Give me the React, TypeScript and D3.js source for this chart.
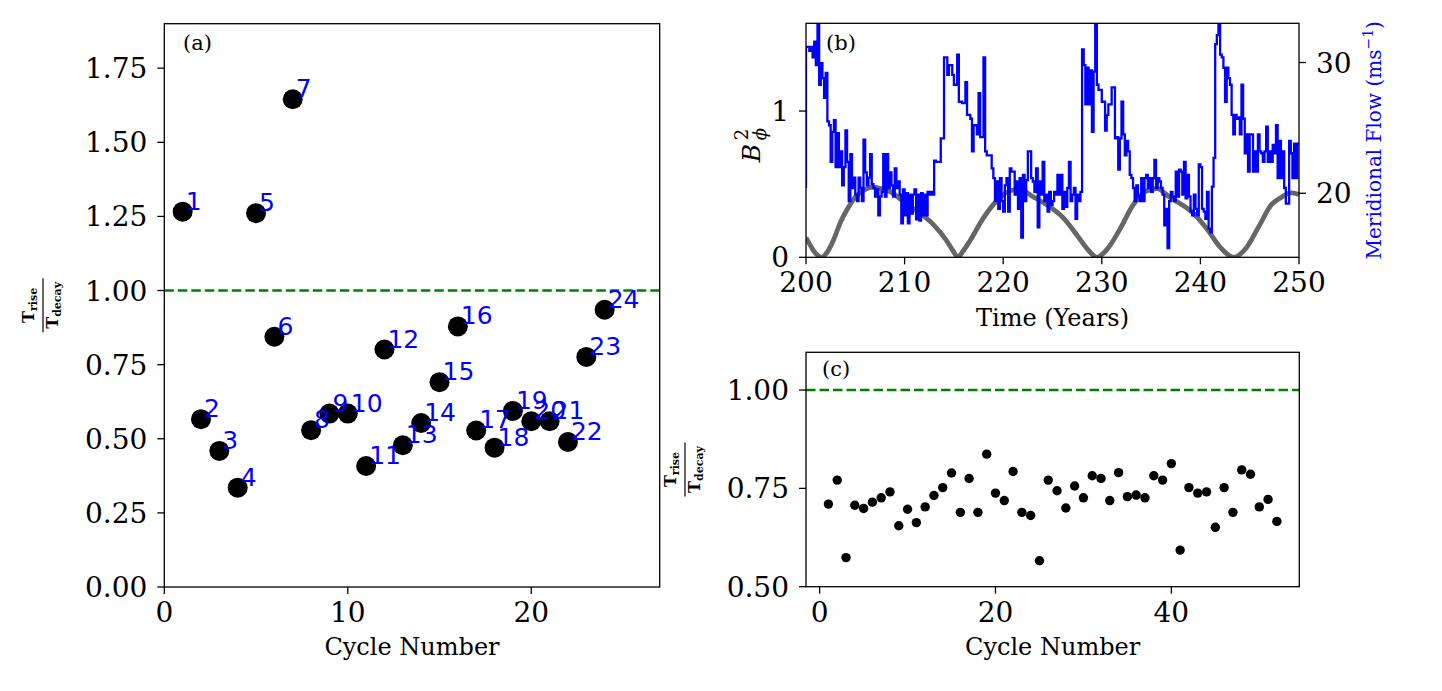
import { curveMonotoneX, curveStepBefore, line, scaleLinear } from 'd3'

const cyclesA = [1, 2, 3, 4, 5, 6, 7, 8, 9, 10, 11, 12, 13, 14, 15, 16, 17, 18, 19, 20, 21, 22, 23, 24]
const ratiosA = [
  1.266, 0.566, 0.459, 0.335, 1.261, 0.844, 1.645, 0.529, 0.585, 0.585, 0.408, 0.801,
  0.478, 0.553, 0.691, 0.879, 0.528, 0.47, 0.594, 0.559, 0.559, 0.489, 0.776, 0.935,
]

const cyclesC = [
  1, 2, 3, 4, 5, 6, 7, 8, 9, 10, 11, 12, 13, 14, 15, 16, 17, 18, 19, 20, 21, 22, 23, 24, 25, 26,
  27, 28, 29, 30, 31, 32, 33, 34, 35, 36, 37, 38, 39, 40, 41, 42, 43, 44, 45, 46, 47, 48, 49, 50, 51, 52,
]
const ratiosC = [
  0.71, 0.771, 0.574, 0.707, 0.699, 0.715, 0.726, 0.741, 0.655, 0.697, 0.663, 0.703, 0.732,
  0.752, 0.789, 0.689, 0.775, 0.689, 0.837, 0.738, 0.719, 0.793, 0.689, 0.681, 0.566, 0.771,
  0.744, 0.7, 0.756, 0.726, 0.782, 0.775, 0.719, 0.79, 0.729, 0.733, 0.726, 0.782, 0.771,
  0.813, 0.593, 0.752, 0.738, 0.741, 0.651, 0.752, 0.689, 0.797, 0.786, 0.703, 0.722, 0.666,
]

const fieldYears = [
  200, 200.5, 201, 201.6, 202.2, 202.8, 203.5, 204.2, 205.1, 206, 206.8, 207.6, 208.5, 210.2,
  211.6, 212.9, 214.3, 214.9, 215.4, 215.9, 216.6, 218, 219.4, 220.7, 221.7, 223, 224.4, 226.1,
  227.5, 228.5, 229.5, 230.6, 231.9, 233.1, 234.3, 235.6, 236.9, 238, 239.3, 240.6, 242, 243.4,
  244.6, 246, 247.2, 248.2, 249.2, 250,
]
const fieldEnergy = [
  0.135, 0.075, 0.025, 0, 0.04, 0.12, 0.24, 0.33, 0.42, 0.465, 0.48, 0.47, 0.45, 0.365,
  0.3, 0.225, 0.11, 0.045, 0, 0.04, 0.11, 0.27, 0.39, 0.455, 0.465, 0.415, 0.36, 0.27,
  0.15, 0.06, 0, 0.06, 0.2, 0.35, 0.445, 0.47, 0.41, 0.365, 0.3, 0.2, 0.07, 0,
  0.06, 0.22, 0.36, 0.41, 0.44, 0.43,
]

const flowStartYear = 200
const flowStepsPerYear = 6
const meridionalFlow = [
  20.4,
  31.2, 31.2, 30.9, 31.2, 30.4, 31.6,
  29.8, 33.0, 28.3, 29.95, 28.8, 27.3,
  29.2, 25.5, 25.2, 22.4, 24.7, 25.6,
  22.0, 24.6, 22.0, 23.2, 20.6, 22.0,
  24.8, 22.4, 19.4, 23.0, 20.4, 21.2,
  19.9, 19.4, 21.2, 20.4, 19.4, 24.1,
  21.6, 20.6, 21.2, 23.0, 20.7, 20.4,
  19.75, 20.3, 18.3, 19.75, 20.1, 23.0,
  19.75, 23.0, 20.4, 21.6, 20.6, 19.75,
  21.9, 20.4, 20.9, 19.9, 17.7, 20.3,
  18.3, 20.0, 17.7, 19.9, 18.45, 19.9,
  20.3, 18.0, 19.9, 17.9, 20.0, 18.3,
  19.9, 18.3, 20.1, 19.9, 20.1, 19.9,
  22.5, 22.4, 22.4, 22.4, 24.2, 24.2,
  30.4, 30.4, 29.05, 29.8, 29.8, 29.05,
  28.3, 28.3, 30.6, 27.0, 27.0, 26.9,
  26.9, 28.5, 26.0, 26.0, 25.7, 23.2,
  25.2, 25.2, 24.5, 27.65, 24.3, 24.3,
  30.4, 23.2, 22.9, 22.9, 22.9, 21.9,
  21.15, 19.4, 20.9, 18.8, 21.15, 19.4,
  18.6, 20.6, 21.15, 18.6, 21.9, 21.65,
  21.65, 19.9, 20.9, 18.8, 21.15, 16.6,
  21.4, 19.4, 21.0, 23.2, 23.2, 21.15,
  20.9, 20.1, 21.9, 17.4, 20.9, 19.9,
  22.4, 19.4, 19.9, 18.6, 20.1, 19.1,
  19.4, 20.1, 19.9, 21.4, 19.9, 21.4,
  18.8, 20.1, 18.96, 20.4, 22.4, 19.4,
  19.9, 20.4, 18.05, 19.9, 19.4, 20.1,
  31.0, 29.8, 26.8, 29.6, 26.8, 29.4,
  24.7, 29.3, 33.0, 28.3, 27.9, 27.9,
  27.0, 27.0, 24.8, 26.0, 26.8, 26.8,
  28.1, 28.1, 24.2, 24.3, 21.8, 24.2,
  27.0, 24.5, 22.9, 24.0, 23.2, 21.4,
  21.15, 20.4, 19.4, 20.6, 19.75, 19.4,
  21.15, 19.4, 21.15, 21.4, 20.4, 21.15,
  20.1, 21.15, 22.55, 20.4, 21.15, 20.9,
  20.4, 19.9, 17.55, 18.8, 15.8, 19.4,
  20.1, 19.75, 19.4, 21.65, 19.75, 21.8,
  21.65, 19.9, 22.4, 19.6, 21.4, 19.75,
  18.6, 18.3, 19.9, 18.8, 18.3, 22.2,
  22.0, 18.8, 18.6, 18.05, 20.1, 17.3,
  17.0, 20.5, 22.7, 31.4, 32.1, 33.0,
  30.6, 30.4, 29.6, 27.0, 29.6, 28.8,
  28.3, 26.0, 24.5, 26.0, 25.7, 25.8,
  24.5, 28.3, 25.7, 23.06, 24.5, 21.65,
  24.5, 24.5, 21.65, 23.2, 21.65, 24.5,
  23.2, 23.06, 22.4, 23.2, 25.1, 22.4,
  23.2, 22.4, 23.7, 23.06, 25.2, 21.15,
  24.0, 21.15, 23.2, 20.4, 19.2, 19.2,
  24.0, 23.06, 21.15, 23.8, 21.15, 23.8,
]

const xTicksA = [0, 10, 20]
const yTicksA = [0, 0.25, 0.5, 0.75, 1, 1.25, 1.5, 1.75]
const xTicksB = [200, 210, 220, 230, 240, 250]
const yTicksB = [0, 1]
const flowTicks = [20, 30]
const xTicksC = [0, 20, 40]
const yTicksC = [0.5, 0.75, 1]

const serif = '"DejaVu Serif", serif'
const sans = '"DejaVu Sans", sans-serif'
const tickSize = 7
const tickFont = 28
const labelFont = 24

const boxA = { left: 164.3, right: 659.7, top: 23.7, bottom: 587 }
const boxB = { left: 806, right: 1299, top: 23.3, bottom: 257.3 }
const boxC = { left: 806, right: 1299.3, top: 352.3, bottom: 586.7 }

type Box = typeof boxA
type Scale = (v: number) => number

function Frame({ box }: { box: Box }) {
  return (
    <rect
      x={box.left}
      y={box.top}
      width={box.right - box.left}
      height={box.bottom - box.top}
      fill="none"
      stroke="#000"
      strokeWidth={1.3}
    />
  )
}

function BottomTicks({ box, scale, ticks, format }: { box: Box; scale: Scale; ticks: number[]; format: (v: number) => string }) {
  return (
    <g>
      {ticks.map((tick) => (
        <g key={`bx-${tick}`}>
          <line x1={scale(tick)} x2={scale(tick)} y1={box.bottom} y2={box.bottom + tickSize} stroke="#000" strokeWidth={1.3} />
          <text x={scale(tick)} y={box.bottom + 35} textAnchor="middle" fontFamily={serif} fontSize={tickFont}>
            {format(tick)}
          </text>
        </g>
      ))}
    </g>
  )
}

function LeftTicks({ box, scale, ticks, format }: { box: Box; scale: Scale; ticks: number[]; format: (v: number) => string }) {
  return (
    <g>
      {ticks.map((tick) => (
        <g key={`ly-${tick}`}>
          <line x1={box.left - tickSize} x2={box.left} y1={scale(tick)} y2={scale(tick)} stroke="#000" strokeWidth={1.3} />
          <text x={box.left - 17} y={scale(tick)} dy="0.36em" textAnchor="end" fontFamily={serif} fontSize={tickFont}>
            {format(tick)}
          </text>
        </g>
      ))}
    </g>
  )
}

function RatioLabel({ x, y }: { x: number; y: number }) {
  return (
    <g transform={`translate(${x}, ${y}) rotate(-90)`} fontFamily={serif} fontWeight="bold">
      <text x={0} y={-9} textAnchor="middle" fontSize={16}>
        T<tspan fontSize={11} dy={3}>rise</tspan>
      </text>
      <line x1={-27} x2={27} y1={0} y2={0} stroke="#000" strokeWidth={1.2} />
      <text x={0} y={15} textAnchor="middle" fontSize={16}>
        T<tspan fontSize={11} dy={3}>decay</tspan>
      </text>
    </g>
  )
}

function App() {
  const xA = scaleLinear().domain([0, 27]).range([boxA.left, boxA.right])
  const yA = scaleLinear().domain([0, 1.9]).range([boxA.bottom, boxA.top])
  const xB = scaleLinear().domain([200, 250]).range([boxB.left, boxB.right])
  const yB = scaleLinear().domain([0, 1.6]).range([boxB.bottom, boxB.top])
  const yFlow = scaleLinear().domain([15.1, 33.0]).range([boxB.bottom, boxB.top])
  const xC = scaleLinear().domain([-1.55, 54.55]).range([boxC.left, boxC.right])
  const yC = scaleLinear().domain([0.5, 1.096]).range([boxC.bottom, boxC.top])

  const fieldPath = line<number>()
    .x((_, i) => xB(fieldYears[i]))
    .y((d) => yB(d))
    .curve(curveMonotoneX)(fieldEnergy)

  const flowPath = line<number>()
    .x((_, i) => xB(flowStartYear + i / flowStepsPerYear))
    .y((d) => yFlow(d))
    .curve(curveStepBefore)(meridionalFlow)

  return (
    <div style={{ position: 'absolute', left: 0, top: 0 }}>
      <svg width={1442} height={691} viewBox="0 0 1442 691" style={{ display: 'block', background: '#fff' }}>
        <defs>
          <clipPath id="clip-b">
            <rect x={boxB.left} y={boxB.top} width={boxB.right - boxB.left} height={boxB.bottom - boxB.top} />
          </clipPath>
        </defs>

        {/* panel (a) */}
        <line
          x1={boxA.left}
          x2={boxA.right}
          y1={yA(1)}
          y2={yA(1)}
          stroke="#008000"
          strokeWidth={2.4}
          strokeDasharray="9.5,4"
        />
        {cyclesA.map((cycle, i) => (
          <circle key={`a-${cycle}`} cx={xA(cycle)} cy={yA(ratiosA[i])} r={10} fill="#000" />
        ))}
        {cyclesA.map((cycle, i) => (
          <text
            key={`a-label-${cycle}`}
            x={xA(cycle) + 3}
            y={yA(ratiosA[i]) - 2}
            fontFamily={sans}
            fontSize={25}
            fill="#0000ff"
          >
            {cycle}
          </text>
        ))}
        <Frame box={boxA} />
        <BottomTicks box={boxA} scale={xA} ticks={xTicksA} format={(v) => `${v}`} />
        <LeftTicks box={boxA} scale={yA} ticks={yTicksA} format={(v) => v.toFixed(2)} />
        <text x={183} y={50} fontFamily={serif} fontSize={21}>(a)</text>
        <text x={(boxA.left + boxA.right) / 2} y={655} textAnchor="middle" fontFamily={serif} fontSize={labelFont}>
          Cycle Number
        </text>
        <RatioLabel x={43} y={(boxA.top + boxA.bottom) / 2} />

        {/* panel (b) */}
        <path d={fieldPath ?? ''} fill="none" stroke="#666" strokeWidth={4.8} clipPath="url(#clip-b)" />
        <path d={flowPath ?? ''} fill="none" stroke="#0000ff" strokeWidth={2.3} clipPath="url(#clip-b)" />
        <Frame box={boxB} />
        <BottomTicks box={boxB} scale={xB} ticks={xTicksB} format={(v) => `${v}`} />
        <LeftTicks box={boxB} scale={yB} ticks={yTicksB} format={(v) => `${v}`} />
        {flowTicks.map((tick) => (
          <g key={`r-${tick}`}>
            <line x1={boxB.right} x2={boxB.right + tickSize} y1={yFlow(tick)} y2={yFlow(tick)} stroke="#000" strokeWidth={1.3} />
            <text x={boxB.right + 17} y={yFlow(tick)} dy="0.36em" fontFamily={serif} fontSize={tickFont}>
              {tick}
            </text>
          </g>
        ))}
        <text x={826} y={50} fontFamily={serif} fontSize={21}>(b)</text>
        <text x={(boxB.left + boxB.right) / 2} y={326} textAnchor="middle" fontFamily={serif} fontSize={labelFont}>
          Time (Years)
        </text>
        <g transform={`translate(760, ${(boxB.top + boxB.bottom) / 2}) rotate(-90)`} fontFamily={serif}>
          <text x={-22} y={0} fontSize={25} fontStyle="italic">B</text>
          <text x={0} y={-12} fontSize={18}>2</text>
          <text x={0} y={6} fontSize={18} fontStyle="italic">ϕ</text>
        </g>
        <text
          transform={`translate(1381, ${(boxB.top + boxB.bottom) / 2}) rotate(-90)`}
          textAnchor="middle"
          fontFamily={serif}
          fontSize={20}
          fill="#0000ff"
        >
          Meridional Flow (ms<tspan fontSize={14} dy={-8}>−1</tspan><tspan dy={8}>)</tspan>
        </text>

        {/* panel (c) */}
        <line
          x1={boxC.left}
          x2={boxC.right}
          y1={yC(1)}
          y2={yC(1)}
          stroke="#008000"
          strokeWidth={2.4}
          strokeDasharray="9.5,4"
        />
        {cyclesC.map((cycle, i) => (
          <circle key={`c-${cycle}`} cx={xC(cycle)} cy={yC(ratiosC[i])} r={4.7} fill="#000" />
        ))}
        <Frame box={boxC} />
        <BottomTicks box={boxC} scale={xC} ticks={xTicksC} format={(v) => `${v}`} />
        <LeftTicks box={boxC} scale={yC} ticks={yTicksC} format={(v) => v.toFixed(2)} />
        <text x={822} y={376} fontFamily={serif} fontSize={21}>(c)</text>
        <text x={(boxC.left + boxC.right) / 2} y={655} textAnchor="middle" fontFamily={serif} fontSize={labelFont}>
          Cycle Number
        </text>
        <RatioLabel x={685} y={(boxC.top + boxC.bottom) / 2} />
      </svg>
    </div>
  )
}

export default App
